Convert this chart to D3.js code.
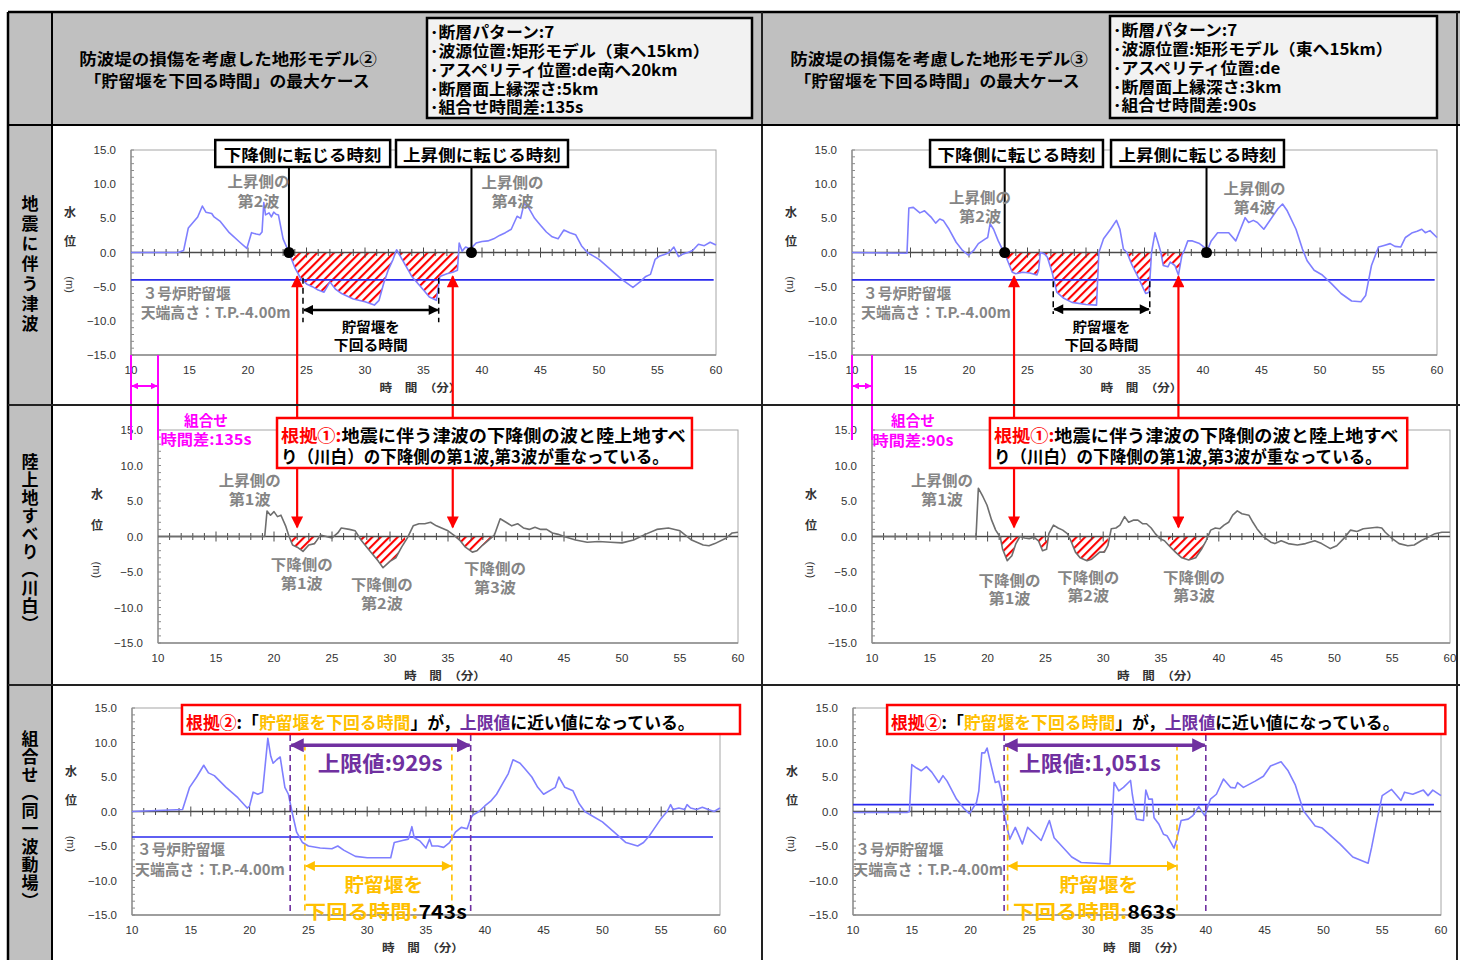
<!DOCTYPE html>
<html><head><meta charset="utf-8">
<script src="https://cdn.jsdelivr.net/npm/d3@7"></script>
<style>body{margin:0;background:#fff}</style>
</head><body><svg id="c" width="1460" height="960"></svg>
<script>
// ================= DATA =================
const xTicks = [10, 15, 20, 25, 30, 35, 40, 45, 50, 55, 60];
const yTicks = [15, 10, 5, 0, -5, -10, -15];

const rowLabels = ["地震に伴う津波", "陸上地すべり（川白）", "組合せ（同一波動場）"];
const titleA = ["防波堤の損傷を考慮した地形モデル②", "「貯留堰を下回る時間」の最大ケース"];
const titleB = ["防波堤の損傷を考慮した地形モデル③", "「貯留堰を下回る時間」の最大ケース"];
const infoA = ["･断層パターン:7", "･波源位置:矩形モデル（東へ15km）", "･アスペリティ位置:de南へ20km", "･断層面上縁深さ:5km", "･組合せ時間差:135s"];
const infoB = ["･断層パターン:7", "･波源位置:矩形モデル（東へ15km）", "･アスペリティ位置:de", "･断層面上縁深さ:3km", "･組合せ時間差:90s"];

// [time (min), water level (m)]
const tsunamiA = [[10,0],[14.0,0],[14.5,0.3],[14.9,3.6],[15.3,4.4],[15.7,5.2],[16.1,6.8],[16.4,5.9],[16.9,5.7],[17.1,5.2],[17.6,4.6],[18.4,2.9],[19.3,1.5],[19.9,0.6],[20.3,2.9],[20.7,2.7],[21.0,2.6],[21.2,3.0],[21.35,7.3],[21.5,5.5],[21.8,5.8],[22.0,5.2],[22.2,5.9],[22.4,5.6],[22.6,5.5],[23.0,2.0],[23.5,0],[24.0,-2.2],[24.5,-3.8],[25.0,-4.6],[25.5,-5.0],[26.0,-5.5],[26.5,-5.8],[27.0,-4.3],[27.5,-5.4],[28.0,-6.0],[29.0,-6.8],[30.0,-7.2],[30.8,-7.7],[31.2,-7.0],[31.6,-4.5],[32.0,-2.5],[32.4,-1.0],[32.7,0.4],[33.0,-0.5],[33.5,-2.0],[34.0,-3.5],[35.0,-5.5],[35.5,-6.5],[36.1,-7.0],[36.4,-3.5],[37.0,-3.1],[37.5,-2.9],[37.9,-2.6],[38.05,1.4],[38.3,0.2],[38.6,0.8],[39.0,0.5],[39.5,1.4],[40.0,1.6],[40.5,1.7],[41.0,2.0],[41.5,2.5],[42.0,2.9],[42.5,3.4],[43.0,5.3],[43.3,5.0],[43.6,7.2],[44.0,6.5],[44.5,5.0],[45.0,4.0],[45.5,3.0],[46.0,2.3],[46.5,2.0],[47.0,3.3],[47.5,2.9],[48.0,2.6],[48.5,1.0],[49.0,0.0],[49.5,-0.5],[50.0,-1.0],[51.0,-2.5],[52.0,-4.0],[52.9,-5.1],[53.5,-4.3],[54.0,-3.5],[54.4,-3.2],[54.8,-1.0],[55.2,-0.5],[55.6,-0.3],[56.0,0.0],[56.4,0.8],[56.8,-0.6],[57.2,-0.2],[57.6,0.0],[58.0,0.3],[58.5,1.2],[59.0,1.0],[59.5,1.5],[60,1.1]];

const tsunamiB = [[10,0],[14.7,-0.1],[14.86,6.5],[15.24,6.6],[15.8,5.8],[16.2,6.1],[16.8,5.1],[17.15,4.3],[17.5,4.9],[17.8,4.7],[18.3,3.4],[18.9,1.5],[19.45,0.3],[19.95,-0.4],[20.4,0.3],[20.8,1.3],[21.4,2.0],[21.6,2.2],[21.8,4.2],[22.1,3.4],[22.5,1.7],[22.9,0.3],[23.0,0],[23.3,-1.2],[23.7,-2.9],[24.0,-3.1],[24.6,-2.9],[25.2,-3.0],[25.8,-3.3],[25.95,-2.6],[26.1,0],[26.45,-0.2],[26.7,-0.7],[27.1,-2.9],[27.5,-5.8],[28.1,-6.7],[28.8,-7.3],[30.0,-7.6],[30.9,-7.7],[31.1,0],[31.5,2.0],[32.1,3.4],[32.6,4.7],[32.9,3.4],[33.2,0.5],[33.5,0],[33.9,-1.7],[34.5,-3.8],[35.1,-6.0],[35.4,-5.8],[35.6,0],[35.9,2.9],[36.15,1.5],[36.4,0],[36.6,-1.9],[37.0,-2.1],[37.2,-1.4],[37.6,-1.9],[37.9,-3.3],[38.2,-0.4],[38.4,0.3],[38.7,1.7],[39.1,1.7],[39.7,1.3],[40.1,0.8],[40.3,0],[40.7,1.7],[41.25,2.9],[42.2,2.9],[42.8,1.7],[43.2,3.4],[43.6,5.1],[43.9,4.4],[44.3,4.7],[44.65,4.4],[45.2,3.4],[45.8,4.9],[46.4,6.4],[46.8,7.1],[47.2,6.1],[47.95,3.4],[48.5,0.5],[48.9,-1.2],[49.5,-2.6],[50.2,-3.3],[51.0,-4.6],[51.8,-6.0],[52.7,-7.1],[53.5,-7.2],[53.9,-6.3],[54.4,-1.9],[55.0,0.8],[55.4,1.0],[56.0,1.3],[56.4,0.9],[56.9,0.8],[57.3,2.2],[57.9,2.9],[58.3,3.1],[58.7,3.4],[59.0,2.9],[59.4,3.2],[60,2.2]];

const landslideA = [[10,0],[19.2,0],[19.4,3.6],[19.7,3.0],[20.0,3.5],[20.3,2.8],[20.6,3.0],[21.0,1.5],[21.3,0],[21.6,-1.2],[22.0,-1.5],[22.5,-2.1],[23.0,-1.2],[23.5,-1.0],[24.0,0.2],[24.5,0],[25.0,-0.2],[25.5,0.5],[25.8,1.2],[26.5,1.0],[27.0,0.8],[27.5,-0.5],[28.0,-1.5],[28.5,-2.5],[29.0,-3.5],[29.4,-4.4],[30.0,-3.5],[30.5,-3.0],[31.0,-1.5],[31.5,-0.2],[32.0,1.5],[32.5,1.8],[33.0,1.8],[33.5,2.0],[34.0,1.5],[35.0,0.8],[35.5,0.2],[36.0,-0.5],[36.5,-1.5],[37.1,-2.2],[37.5,-2.0],[38.0,-1.2],[38.5,-0.5],[39.0,0.2],[39.5,2.5],[40.0,2.0],[40.5,1.5],[41.0,1.8],[41.5,1.2],[42.0,1.0],[42.5,1.3],[43.0,1.0],[43.5,1.0],[44.0,0.5],[44.5,0.3],[45.0,0],[46.0,-0.5],[47.0,-0.8],[48.0,-0.7],[49.0,-0.8],[50.0,-0.9],[51.0,-0.5],[52.0,0.3],[53.0,1.0],[54.0,1.2],[55.0,0.8],[56.0,-0.5],[57.0,-1.2],[57.5,-1.3],[58.0,-1.0],[59.0,-0.2],[59.5,0.5],[60,0.6]];

const landslideB = [[10,0],[19.0,0],[19.2,6.8],[19.6,5.6],[19.95,4.4],[20.35,2.3],[20.7,0.9],[21.1,-0.1],[21.3,-1.8],[21.7,-3.4],[22.1,-2.7],[22.45,-1.0],[22.8,0],[23.2,-0.2],[23.6,-0.3],[24.0,-0.1],[24.4,-0.6],[24.75,-2.0],[25.1,-1.8],[25.3,0.4],[25.7,1.6],[26.1,1.2],[26.5,0.9],[26.9,0.4],[27.2,-0.6],[27.6,-2.2],[28.0,-3.0],[28.6,-3.4],[29.0,-3.2],[29.35,-2.7],[29.7,-2.2],[30.1,-2.2],[30.4,-1.3],[30.7,1.1],[31.1,1.2],[31.45,1.6],[31.85,2.8],[32.2,2.0],[32.6,2.3],[33.0,2.3],[33.4,1.8],[33.75,1.8],[34.15,1.2],[34.5,0.4],[34.9,-0.3],[35.3,-0.6],[35.7,-1.3],[36.25,-2.2],[36.8,-3.0],[37.4,-3.3],[38.0,-3.0],[38.5,-1.8],[38.9,-0.6],[39.3,0.9],[39.7,1.2],[40.1,1.1],[40.45,1.6],[40.85,2.0],[41.2,3.0],[41.6,3.6],[42.0,3.2],[42.6,3.0],[42.95,2.0],[43.3,1.1],[43.9,-0.1],[44.5,-0.8],[44.85,-1.0],[45.4,-0.6],[46.0,-1.0],[46.8,-1.2],[47.5,-1.0],[48.3,-0.6],[48.9,-1.0],[49.65,-1.7],[50.2,-1.3],[50.8,-0.3],[51.4,0.9],[51.95,0.7],[52.5,1.1],[53.1,1.2],[53.7,1.3],[54.1,1.2],[54.4,0.6],[55.0,-0.3],[55.6,-1.0],[56.35,-1.3],[56.9,-1.2],[57.5,-0.6],[58.1,-0.1],[58.7,0.4],[59.3,0.6],[60,0.6]];

const combinedA = [[10,0],[14.3,0.3],[14.9,3.5],[15.5,5.0],[16.1,6.7],[16.5,5.6],[17.0,5.2],[18.0,3.5],[19.0,2.0],[19.8,0.5],[20.0,0.8],[20.3,2.8],[20.7,2.5],[21.1,2.8],[21.55,10.6],[21.8,8.0],[22.0,7.0],[22.3,7.5],[22.6,7.9],[23.0,3.5],[23.3,2.5],[23.6,0],[24.0,-3.0],[24.5,-4.5],[25.0,-5.0],[26.0,-5.3],[27.0,-5.4],[27.5,-5.0],[28.0,-5.6],[29.0,-6.5],[30.0,-6.7],[31.0,-6.7],[32.0,-6.7],[32.3,-4.5],[33.0,-4.2],[33.5,-4.0],[33.8,-2.2],[34.0,-3.8],[34.5,-4.3],[35.0,-5.3],[35.3,-4.0],[35.5,-5.0],[36.0,-5.0],[36.5,-5.2],[37.0,-4.5],[37.5,-3.0],[38.0,-2.3],[38.5,-2.5],[38.8,-1.0],[39.0,-0.5],[39.5,0],[40.0,0.8],[40.5,1.5],[41.0,2.5],[41.5,4.0],[42.0,5.5],[42.4,7.5],[43.0,7.0],[43.5,6.0],[44.0,5.0],[44.5,3.5],[45.0,2.5],[46.0,3.5],[46.3,5.0],[46.8,3.5],[47.5,3.0],[48.0,1.2],[48.5,0],[49.0,-0.5],[50.0,-1.5],[51.0,-3.0],[52.0,-4.5],[53.0,-5.0],[53.5,-4.5],[54.0,-3.5],[55.0,-1.0],[55.5,0],[55.8,1.0],[56.0,0.3],[56.5,0.5],[57.0,0.3],[57.2,1.0],[57.5,0.5],[58.0,0.3],[58.5,0.6],[59.0,0.3],[59.5,0],[60,0.5]];

const combinedB = [[10,-0.15],[14.6,-0.15],[14.8,0],[15.0,6.8],[15.4,6.3],[15.8,5.9],[16.25,6.5],[16.7,5.7],[17.3,4.2],[17.65,5.2],[18.0,4.4],[18.8,1.8],[19.4,0.5],[19.9,-0.3],[20.5,1.3],[20.7,3.0],[20.95,8.5],[21.2,8.5],[21.4,9.2],[21.8,6.3],[22.1,4.2],[22.4,4.4],[22.6,3.0],[22.8,0],[23.33,-4.0],[23.8,-2.3],[24.4,-4.7],[24.85,-2.3],[26.0,-4.2],[26.7,-1.3],[27.1,-3.8],[28.6,-6.6],[29.4,-7.4],[31.85,-7.6],[32.2,4.2],[32.6,3.0],[33.0,3.5],[33.6,4.5],[33.75,2.5],[34.1,-1.1],[34.7,-1.3],[34.9,3.1],[35.15,1.8],[35.45,1.8],[35.6,-0.9],[36.0,-1.8],[36.4,-3.3],[36.7,-3.5],[37.3,-5.3],[37.5,-4.2],[37.9,-1.3],[38.5,-1.1],[38.9,-0.6],[39.4,0.7],[39.9,-0.6],[40.4,1.8],[40.9,2.5],[41.5,4.7],[42.1,3.5],[42.5,3.4],[42.7,4.2],[43.2,3.5],[44.2,4.4],[44.9,5.1],[45.5,6.6],[46.4,7.2],[47.0,5.9],[47.6,3.9],[48.3,0.1],[49.3,-2.1],[49.9,-2.4],[51.4,-4.7],[52.5,-6.6],[53.8,-7.5],[54.1,-5.2],[54.6,-0.9],[55.0,2.3],[55.8,3.2],[56.6,1.6],[56.9,2.8],[57.6,2.5],[58.5,3.1],[58.9,2.3],[59.3,3.1],[60,2.3]];

// weir crest lines [level, end time]
const weirTL = [-4.0, 59.8], weirTR = [-4.0, 59.8], weirBL = [-3.7, 59.4], weirBR = [1.0, 59.4];
// hatched ranges (below zero)
const hatchTL = [[23.5, 39.1]];
const hatchTR = [[23.0, 40.3]];
const hatchML = [[21.4, 23.8], [27.4, 31.3], [35.7, 38.9]];
const hatchMR = [[21.1, 22.8], [24.1, 25.3], [27.2, 30.4], [35.6, 39.0]];
// turning times (down, up)
const turnTL = [23.5, 39.1], turnTR = [23.05, 40.3];
// below-weir time span markers
const belowTL = [24.7, 36.3], belowTR = [27.2, 35.45];
const limitBL = [23.45, 38.8], durBL = [24.7, 37.2];
const limitBR = [22.85, 40.0], durBR = [23.15, 37.55];
const redArrowL = [24.2, 37.5], redArrowR = [23.85, 37.9];
const limitTextBL = "上限値:929s", limitTextBR = "上限値:1,051s";
const durValBL = "743s", durValBR = "863s";
const lagTextL = "時間差:135s", lagTextR = "時間差:90s";

// ================= DRAW =================
const JP = '"Noto Sans CJK JP","Noto Sans",sans-serif';
const NUM = '"Liberation Sans",Arial,sans-serif';
const svg = d3.select('#c');
const defs = svg.append('defs');

const pat = defs.append('pattern').attr('id', 'hatch').attr('patternUnits', 'userSpaceOnUse')
  .attr('width', 6).attr('height', 6).attr('patternTransform', 'rotate(45)');
pat.append('rect').attr('width', 6).attr('height', 6).attr('fill', '#fff');
pat.append('rect').attr('width', 2.1).attr('height', 6).attr('fill', '#ff0000');

function marker(id, color, w, l) {
  defs.append('marker').attr('id', id).attr('viewBox', '0 0 10 10').attr('refX', 9).attr('refY', 5)
    .attr('markerWidth', l).attr('markerHeight', w).attr('markerUnits', 'userSpaceOnUse')
    .attr('orient', 'auto-start-reverse')
    .append('path').attr('d', 'M0,0L10,5L0,10z').attr('fill', color);
}
marker('mRed', '#ff0000', 12, 15);
marker('mBlack', '#000', 10, 14);
marker('mPurple', '#7030a0', 14, 16);
marker('mOrange', '#ffc000', 10, 11);
marker('mMag', '#ff00ff', 7, 7);

function txt(parent, x, y, str, o = {}) {
  const t = parent.append('text').attr('x', x).attr('y', y)
    .attr('font-family', o.ff || JP).attr('font-size', o.fs || 14)
    .attr('font-weight', o.fw || 700).attr('fill', o.fill || '#000')
    .attr('text-anchor', o.anchor || 'start').attr('dominant-baseline', 'central');
  if (Array.isArray(str)) str.forEach(([s, c]) => t.append('tspan').attr('fill', c).text(s));
  else t.text(str);
  if (o.w) {
    const L = t.node().getComputedTextLength();
    if (L > 0) t.attr('transform', `translate(${x},0) scale(${o.w / L},1) translate(${-x},0)`);
  }
  return t;
}
function line(parent, x1, y1, x2, y2, stroke, sw, extra = {}) {
  const l = parent.append('line').attr('x1', x1).attr('y1', y1).attr('x2', x2).attr('y2', y2)
    .attr('stroke', stroke).attr('stroke-width', sw);
  Object.entries(extra).forEach(([k, v]) => l.attr(k, v));
  return l;
}

// ---- table layout ----
const G = svg.append('g');
G.append('rect').attr('x', 8).attr('y', 12).attr('width', 1452).attr('height', 113).attr('fill', '#c0c0c0');
G.append('rect').attr('x', 8).attr('y', 12).attr('width', 44).attr('height', 948).attr('fill', '#c0c0c0');

// header titles
txt(G, 228, 58, titleA[0], { fs: 16, anchor: 'middle', w: 298 });
txt(G, 227, 80, titleA[1], { fs: 16, anchor: 'middle', w: 285 });
txt(G, 939, 58, titleB[0], { fs: 16, anchor: 'middle', w: 298 });
txt(G, 937, 80, titleB[1], { fs: 16, anchor: 'middle', w: 285 });

function infoBox(x, y, w, h, lines, ys) {
  G.append('rect').attr('x', x).attr('y', y).attr('width', w).attr('height', h)
    .attr('fill', '#f2f2f2').attr('stroke', '#000').attr('stroke-width', 2.5);
  const g = G.append('g');
  const nodes = lines.map((s, i) => txt(g, x + 3, ys[i], s, { fs: 16 }));
  const L = nodes[1].node().getComputedTextLength();
  const s = 280 / L;
  g.attr('transform', `translate(${x + 3},0) scale(${s},1) translate(${-(x + 3)},0)`);
}
infoBox(427, 18, 325, 100, infoA, [31, 50, 69, 88, 106]);
infoBox(1110, 16, 327, 102, infoB, [29, 48, 67, 86, 104]);

// row labels (vertical)
[[265, 3], [543, 1], [820, 1]].forEach(([cy, ls], i) => {
  G.append('text').attr('x', 30).attr('y', cy).text(rowLabels[i])
    .attr('font-family', JP).attr('font-size', 17).attr('font-weight', 700)
    .attr('text-anchor', 'middle').style('writing-mode', 'vertical-rl')
    .attr('letter-spacing', ls);
});

// ---- panels ----
function panel(p) {
  const x = d3.scaleLinear().domain([10, 60]).range([p.x0, p.x1]);
  const y = d3.scaleLinear().domain([-15, 15]).range([p.yb, p.yt]);
  const g = svg.append('g');
  g.append('rect').attr('x', p.x0).attr('y', p.yt).attr('width', p.x1 - p.x0).attr('height', p.yb - p.yt)
    .attr('fill', '#fff').attr('stroke', '#a6a6a6').attr('stroke-width', 1);
  line(g, p.x0, p.yt, p.x0, p.yb, '#8c8c8c', 1.3);
  line(g, p.x0, p.yb, p.x1, p.yb, '#8c8c8c', 1.3);
  g.selectAll(null).data(d3.range(-15, 16)).join('line')
    .attr('x1', p.x0).attr('x2', p.x0 + 3).attr('y1', d => y(d)).attr('y2', d => y(d))
    .attr('stroke', '#8c8c8c').attr('stroke-width', 1);
  g.selectAll(null).data(yTicks).join('text')
    .attr('x', p.x0 - 15).attr('y', d => y(d)).attr('text-anchor', 'end').attr('dominant-baseline', 'central')
    .attr('font-family', NUM).attr('font-size', 11.5).attr('fill', '#333').text(d => d3.format('.1f')(d));
  g.selectAll(null).data(xTicks).join('text')
    .attr('x', d => x(d)).attr('y', p.yb + 15).attr('text-anchor', 'middle').attr('dominant-baseline', 'central')
    .attr('font-family', NUM).attr('font-size', 11.5).attr('fill', '#333').text(d => d);
  // axis titles
  const ax = p.x0 - 61;
  txt(g, ax, y(6), '水', { fs: 12, anchor: 'middle', fill: '#333' });
  txt(g, ax, y(1.7), '位', { fs: 12, anchor: 'middle', fill: '#333' });
  g.append('text').attr('x', ax).attr('y', y(-4.7)).text('(m)')
    .attr('font-family', NUM).attr('font-size', 11).attr('fill', '#333')
    .attr('text-anchor', 'middle').attr('dominant-baseline', 'central')
    .attr('transform', `rotate(90,${ax},${y(-4.7)})`);
  txt(g, (p.x0 + p.x1) / 2 - 3, p.yb + 32, '時　間　（分）', { fs: 11, anchor: 'middle', fill: '#333', w: 82 });
  // hatch
  (p.hatch || []).forEach(([a, b], i) => {
    const id = 'clip' + p.id + i;
    defs.append('clipPath').attr('id', id).append('rect')
      .attr('x', x(a)).attr('y', p.yt).attr('width', x(b) - x(a)).attr('height', p.yb - p.yt);
    g.append('path').datum(p.data).attr('clip-path', `url(#${id})`)
      .attr('d', d3.area().x(d => x(d[0])).y0(y(0)).y1(d => y(Math.min(d[1], 0))))
      .attr('fill', 'url(#hatch)');
  });
  // zero line with minute ticks
  line(g, p.x0, y(0), p.x1, y(0), '#4a4a4a', 1.6);
  g.selectAll(null).data(d3.range(11, 60)).join('line')
    .attr('x1', d => x(d)).attr('x2', d => x(d))
    .attr('y1', d => y(0) - (d % 5 === 0 ? 5 : 3.5)).attr('y2', d => y(0) + (d % 5 === 0 ? 5 : 3.5))
    .attr('stroke', '#4a4a4a').attr('stroke-width', 1);
  // weir line
  if (p.weir) line(g, x(10), y(p.weir[0]), x(p.weir[1]), y(p.weir[0]), '#2a2aee', 1.6);
  // curve
  g.append('path').datum(p.data).attr('fill', 'none').attr('stroke', p.stroke)
    .attr('stroke-width', 1.6).attr('stroke-linejoin', 'round')
    .attr('d', d3.line().x(d => x(d[0])).y(d => y(d[1])));
  return { x, y, g, p };
}

const BLUE = '#7f7fff', GRAY_LINE = '#6e6e6e', GT = '#858585';
const TL = panel({ id: 'TL', x0: 131, x1: 716, yt: 150, yb: 355, data: tsunamiA, stroke: BLUE, weir: weirTL, hatch: hatchTL });
const TR = panel({ id: 'TR', x0: 852, x1: 1437, yt: 150, yb: 355, data: tsunamiB, stroke: BLUE, weir: weirTR, hatch: hatchTR });
const ML = panel({ id: 'ML', x0: 158, x1: 738, yt: 430, yb: 643, data: landslideA, stroke: GRAY_LINE, hatch: hatchML });
const MR = panel({ id: 'MR', x0: 872, x1: 1450, yt: 430, yb: 643, data: landslideB, stroke: GRAY_LINE, hatch: hatchMR });
const BL = panel({ id: 'BL', x0: 132, x1: 720, yt: 708, yb: 915, data: combinedA, stroke: BLUE, weir: weirBL });
const BR = panel({ id: 'BR', x0: 853, x1: 1441, yt: 708, yb: 915, data: combinedB, stroke: BLUE, weir: weirBR });

// ---- annotations: top panels ----
function grayPair(P, t, v1, v2, a, b) {
  txt(P.g, P.x(t), P.y(v1), a, { fs: 15, anchor: 'middle', fill: GT, w: a.length * 15.5 });
  txt(P.g, P.x(t), P.y(v2), b, { fs: 15, anchor: 'middle', fill: GT, w: b.length * 14 });
}
function weirLabel(P, t, v1, v2) {
  txt(P.g, P.x(t), P.y(v1), '３号炉貯留堰', { fs: 15, fill: GT, w: 88 });
  txt(P.g, P.x(t) - 2, P.y(v2), '天端高さ：T.P.-4.00m', { fs: 15, fill: GT, w: 150 });
}
function topAnn(P, turn, boxes, below, belowV, labels) {
  const g = P.g;
  const by0 = P.p.yt - 10, by1 = P.p.yt + 17;
  turn.forEach(t => line(g, P.x(t), P.y(0), P.x(t), by1, '#000', 2));
  boxes.forEach(([a, b, s]) => {
    g.append('rect').attr('x', P.x(a)).attr('y', by0).attr('width', P.x(b) - P.x(a)).attr('height', by1 - by0)
      .attr('fill', '#fff').attr('stroke', '#000').attr('stroke-width', 2.5);
    txt(g, (P.x(a) + P.x(b)) / 2, (by0 + by1) / 2 + 1, s, { fs: 16, anchor: 'middle', w: 158 });
  });
  turn.forEach(t => g.append('circle').attr('cx', P.x(t)).attr('cy', P.y(0)).attr('r', 5.5).attr('fill', '#000'));
  below.forEach(t => line(g, P.x(t), P.y(belowV[0]), P.x(t), P.y(belowV[1]), '#000', 1.5, { 'stroke-dasharray': '6,4' }));
  line(g, P.x(below[0]) + 1, P.y(belowV[2]), P.x(below[1]) - 1, P.y(belowV[2]), '#000', 2.5,
    { 'marker-start': 'url(#mBlack)', 'marker-end': 'url(#mBlack)' });
  const cx = P.x((below[0] + below[1]) / 2);
  txt(g, cx, P.y(-10.7), '貯留堰を', { fs: 14, anchor: 'middle', w: 58 });
  txt(g, cx, P.y(-13.4), '下回る時間', { fs: 14, anchor: 'middle', w: 74 });
  labels.forEach(l => grayPair(P, ...l));
}
topAnn(TL, turnTL, [[17.2, 32.15, '下降側に転じる時刻'], [32.65, 47.35, '上昇側に転じる時刻']],
  belowTL, [-3.7, -10.2, -8.4],
  [[20.9, 10.6, 7.7, '上昇側の', '第2波'], [42.6, 10.5, 7.7, '上昇側の', '第4波']]);
weirLabel(TL, 11.0, -5.8, -8.7);
topAnn(TR, turnTR, [[16.67, 31.45, '下降側に転じる時刻'], [32.14, 46.92, '上昇側に転じる時刻']],
  belowTR, [-4.2, -9.0, -8.3],
  [[20.95, 8.3, 5.5, '上昇側の', '第2波'], [44.4, 9.6, 6.8, '上昇側の', '第4波']]);
weirLabel(TR, 10.95, -5.8, -8.7);

// ---- middle panel labels ----
[[ML, [[17.9, 8.1, 5.4, '上昇側の', '第1波'], [22.4, -3.7, -6.5, '下降側の', '第1波'], [29.3, -6.5, -9.2, '下降側の', '第2波'], [39.05, -4.3, -7.0, '下降側の', '第3波']]],
 [MR, [[16.05, 8.1, 5.4, '上昇側の', '第1波'], [21.9, -6.0, -8.6, '下降側の', '第1波'], [28.7, -5.6, -8.2, '下降側の', '第2波'], [37.85, -5.6, -8.2, '下降側の', '第3波']]]]
  .forEach(([P, ls]) => ls.forEach(l => grayPair(P, ...l)));

// ---- red arrows & magenta time lag ----
const OV = svg.append('g');
function redArrows(PT, PM, ts) {
  ts.forEach(t => {
    const xx = PT.x(t);
    line(OV, xx, PM.y(1.3), xx, PT.y(-3.5), '#ff0000', 2.2,
      { 'marker-start': 'url(#mRed)', 'marker-end': 'url(#mRed)' });
  });
}
redArrows(TL, ML, redArrowL);
redArrows(TR, MR, redArrowR);

function lag(PT, PM, txtLag, off, w) {
  const xa = PT.x(10), xb = PM.x(10);
  line(OV, xa, PT.p.yb, xa, PM.p.yt + 10, '#ff00ff', 2);
  line(OV, xb, PT.p.yb, xb, PM.p.yt + 10, '#ff00ff', 2);
  line(OV, xa + 1, PT.p.yb + 31, xb - 1, PT.p.yb + 31, '#ff00ff', 2,
    { 'marker-start': 'url(#mMag)', 'marker-end': 'url(#mMag)' });
  const c = PM.p.x0 + off;
  txt(OV, c, PM.p.yt - 11, '組合せ', { fs: 15, anchor: 'middle', fill: '#ff00ff', w: 44 });
  txt(OV, c, PM.p.yt + 9, txtLag, { fs: 15, anchor: 'middle', fill: '#ff00ff', w: w });
}
lag(TL, ML, lagTextL, 48, 91);
lag(TR, MR, lagTextR, 41, 81);

// 根拠① boxes
function basis1(PM, a, b) {
  const x0 = PM.x(a), x1 = PM.x(b);
  const y0 = PM.p.yt - 12, y1 = PM.p.yt + 38;
  OV.append('rect').attr('x', x0).attr('y', y0).attr('width', x1 - x0).attr('height', y1 - y0)
    .attr('fill', '#fff').attr('stroke', '#ff0000').attr('stroke-width', 2.5);
  txt(OV, x0 + 4, y0 + 16, [['根拠①:', '#ff0000'], ['地震に伴う津波の下降側の波と陸上地すべ', '#000']], { fs: 17, w: 405 });
  txt(OV, x0 + 4, y0 + 38, 'り（川白）の下降側の第1波,第3波が重なっている。', { fs: 17, w: 388 });
}
basis1(ML, 20.26, 56.03);
basis1(MR, 20.2, 56.3);

// ---- bottom panels ----
function bottomAnn(P, limit, dur, limText, durVal, boxA, boxB, txtT, limCenterT, durCenterT, durStartT, limW, durW) {
  const g = P.g;
  const PUR = '#7030a0', ORG = '#ffc000';
  const y0 = P.p.yt - 3, y1 = P.p.yt + 26;
  limit.forEach(t => line(g, P.x(t), y1 + 1, P.x(t), P.p.yb, PUR, 1.6, { 'stroke-dasharray': '6,4' }));
  dur.forEach(t => line(g, P.x(t), P.y(9.7), P.x(t), P.p.yb, ORG, 1.6, { 'stroke-dasharray': '6,4' }));
  line(g, P.x(limit[0]) + 1, P.y(9.6), P.x(limit[1]) - 1, P.y(9.6), PUR, 3.5,
    { 'marker-start': 'url(#mPurple)', 'marker-end': 'url(#mPurple)' });
  line(g, P.x(dur[0]) + 1, P.y(-7.9), P.x(dur[1]) - 1, P.y(-7.9), ORG, 2,
    { 'marker-start': 'url(#mOrange)', 'marker-end': 'url(#mOrange)' });
  txt(g, P.x(limCenterT), P.y(7.2), limText, { fs: 21, anchor: 'middle', fill: PUR, w: limW });
  txt(g, P.x(durCenterT), P.y(-10.5), '貯留堰を', { fs: 19, anchor: 'middle', fill: ORG, w: 79 });
  txt(g, P.x(durStartT), P.y(-14.3), [['下回る時間:', ORG], [durVal, '#000']], { fs: 19, w: durW });
  const bx0 = P.x(boxA), bx1 = P.x(boxB);
  g.append('rect').attr('x', bx0).attr('y', y0).attr('width', bx1 - bx0).attr('height', y1 - y0)
    .attr('fill', '#fff').attr('stroke', '#ff0000').attr('stroke-width', 2.5);
  txt(g, P.x(txtT), (y0 + y1) / 2 + 1, [['根拠②', '#ff0000'], [':「', '#000'], ['貯留堰を下回る時間', ORG],
    ['」が，', '#000'], ['上限値', PUR], ['に近い値になっている。', '#000']], { fs: 17, w: 509 });
}
bottomAnn(BL, limitBL, durBL, limitTextBL, durValBL, 14.25, 61.7, 14.6, 31.1, 31.4, 24.7, 125, 162);
weirLabel(BL, 10.43, -5.4, -8.3);
bottomAnn(BR, limitBR, durBR, limitTextBR, durValBR, 12.9, 60.37, 13.23, 30.15, 30.9, 23.6, 142, 163);
weirLabel(BR, 10.2, -5.4, -8.3);

// ---- table lines on top ----
const TLn = svg.append('g');
line(TLn, 8, 12, 1460, 12, '#000', 2.5);
line(TLn, 8, 12, 8, 960, '#000', 2.5);
line(TLn, 52, 12, 52, 960, '#000', 2);
line(TLn, 762, 12, 762, 960, '#222', 2);
line(TLn, 1457, 12, 1457, 960, '#222', 2);
line(TLn, 8, 125, 1460, 125, '#000', 2);
line(TLn, 8, 405, 1460, 405, '#222', 1.8);
line(TLn, 8, 685, 1460, 685, '#222', 1.8);
</script></body></html>
